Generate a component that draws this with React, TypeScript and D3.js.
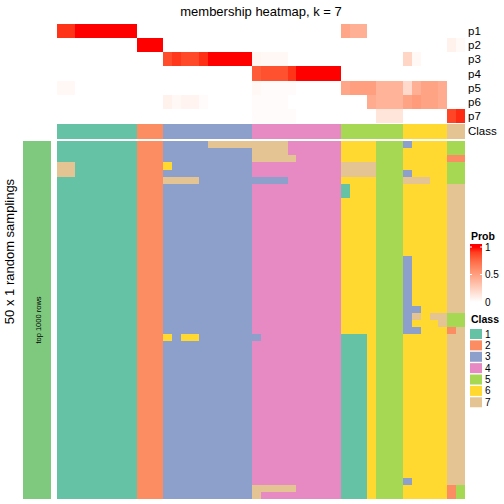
import React from "react";
import * as d3 from "d3";

const titleText = "membership heatmap, k = 7";
const sideTitle = "50 x 1 random samplings";
const barLabel = "top 1000 rows";
const probRowLabels = ["p1", "p2", "p3", "p4", "p5", "p6", "p7"];
const classRowLabel = "Class";
const classLevels = ["1", "2", "3", "4", "5", "6", "7"];
const classColors = ["#66C2A5", "#FC8D62", "#8DA0CB", "#E78AC3", "#A6D854", "#FFD92F", "#E5C494"];
const probTicks = [1, 0.5, 0];
const probTickLabels = ["1", "0.5", "0"];

// class of each of the 46 samples (column blocks: 9|3|10|10|4|3|5|2)
const sampleClass = "111111111 222 3333333333 4444444444 5555 555 66666 77";

// membership probabilities, 46 columns each
const p1 = [0.93, 0.93, 1, 1, 1, 1, 1, 1, 1, 0, 0, 0, 0, 0, 0, 0, 0, 0, 0, 0, 0, 0, 0, 0, 0, 0, 0, 0, 0, 0, 0, 0, 0.47, 0.42, 0.42, 0, 0, 0, 0, 0, 0, 0, 0, 0, 0, 0];
const p2 = [0, 0, 0, 0, 0, 0, 0, 0, 0, 1, 1, 1, 0, 0, 0, 0, 0, 0, 0, 0, 0, 0, 0, 0, 0, 0, 0, 0, 0, 0, 0, 0, 0, 0, 0, 0, 0, 0, 0, 0, 0, 0, 0, 0, 0.07, 0.03];
const p3 = [0, 0, 0, 0, 0, 0, 0, 0, 0, 0, 0, 0, 0.86, 0.92, 0.87, 0.87, 0.94, 1, 1, 1, 1, 1, 0.05, 0.04, 0.04, 0.04, 0, 0, 0, 0, 0, 0, 0, 0, 0, 0, 0, 0, 0, 0.22, 0.04, 0, 0, 0, 0, 0];
const p4 = [0, 0, 0, 0, 0, 0, 0, 0, 0, 0, 0, 0, 0, 0, 0, 0, 0, 0, 0, 0, 0, 0, 0.8, 0.84, 0.84, 0.84, 0.93, 1, 1, 1, 1, 1, 0, 0, 0, 0, 0, 0, 0, 0, 0, 0, 0, 0, 0, 0];
const p5 = [0.04, 0.04, 0, 0, 0, 0, 0, 0, 0, 0, 0, 0, 0, 0, 0, 0, 0, 0, 0, 0, 0, 0, 0.04, 0.02, 0.02, 0.02, 0.02, 0, 0, 0, 0, 0, 0.47, 0.5, 0.5, 0.5, 0.4, 0.4, 0.4, 0.2, 0.42, 0.48, 0.48, 0.44, 0, 0];
const p6 = [0, 0, 0, 0, 0, 0, 0, 0, 0, 0, 0, 0, 0.07, 0.04, 0.06, 0.06, 0.02, 0, 0, 0, 0, 0, 0.02, 0.02, 0.02, 0.02, 0, 0, 0, 0, 0, 0, 0, 0, 0, 0.44, 0.4, 0.4, 0.4, 0.48, 0.52, 0.48, 0.48, 0.44, 0, 0];
const p7 = [0, 0, 0, 0, 0, 0, 0, 0, 0, 0, 0, 0, 0, 0, 0, 0, 0, 0, 0, 0, 0, 0, 0.02, 0.02, 0.02, 0.02, 0.02, 0, 0, 0, 0, 0, 0, 0, 0, 0, 0.14, 0.14, 0.14, 0, 0, 0, 0, 0, 0.88, 0.95];

// class assigned in each of the 50 samplings (same column blocks)
const samplings = [
  "111111111 222 3333377777 7777444444 6666 555 36666 55",
  "111111111 222 3333333333 7777444444 6666 555 66666 55",
  "111111111 222 3333333333 7777744444 6666 555 66666 22",
  "771111111 222 6333333333 4444444444 7777 555 66666 55",
  "771111111 222 3333333333 4444444444 7777 555 36666 55",
  "111111111 222 7777333333 3333444444 6666 555 77766 55",
  "111111111 222 3333333333 4444444444 1666 555 66666 77",
  "111111111 222 3333333333 4444444444 1666 555 66666 77",
  "111111111 222 3333333333 4444444444 6666 555 66666 77",
  "111111111 222 3333333333 4444444444 6666 555 66666 77",
  "111111111 222 3333333333 4444444444 6666 555 66666 77",
  "111111111 222 3333333333 4444444444 6666 555 66666 77",
  "111111111 222 3333333333 4444444444 6666 555 66666 77",
  "111111111 222 3333333333 4444444444 6666 555 66666 77",
  "111111111 222 3333333333 4444444444 6666 555 66666 77",
  "111111111 222 3333333333 4444444444 6666 555 66666 77",
  "111111111 222 3333333333 4444444444 6666 555 36666 77",
  "111111111 222 3333333333 4444444444 6666 555 36666 77",
  "111111111 222 3333333333 4444444444 6666 555 36666 77",
  "111111111 222 3333333333 4444444444 6666 555 36666 77",
  "111111111 222 3333333333 4444444444 6666 555 36666 77",
  "111111111 222 3333333333 4444444444 6666 555 36666 77",
  "111111111 222 3333333333 4444444444 6666 555 36666 77",
  "111111111 222 3333333333 4444444444 6666 555 33666 77",
  "111111111 222 3333333333 4444444444 6666 555 37677 55",
  "111111111 222 3333333333 4444444444 6666 555 36667 55",
  "111111111 222 3333333333 4444444444 6666 555 33666 27",
  "111111111 222 6366333333 3444444444 1116 555 66666 77",
  "111111111 222 3333333333 4444444444 1116 555 66666 77",
  "111111111 222 3333333333 4444444444 1116 555 66666 77",
  "111111111 222 3333333333 4444444444 1116 555 66666 77",
  "111111111 222 3333333333 4444444444 1116 555 66666 77",
  "111111111 222 3333333333 4444444444 1116 555 66666 77",
  "111111111 222 3333333333 4444444444 1116 555 66666 77",
  "111111111 222 3333333333 4444444444 1116 555 66666 77",
  "111111111 222 3333333333 4444444444 1116 555 66666 77",
  "111111111 222 3333333333 4444444444 1116 555 66666 77",
  "111111111 222 3333333333 4444444444 1116 555 66666 77",
  "111111111 222 3333333333 4444444444 1116 555 66666 77",
  "111111111 222 3333333333 4444444444 1116 555 66666 77",
  "111111111 222 3333333333 4444444444 1116 555 66666 77",
  "111111111 222 3333333333 4444444444 1116 555 66666 77",
  "111111111 222 3333333333 4444444444 1116 555 66666 77",
  "111111111 222 3333333333 4444444444 1116 555 66666 77",
  "111111111 222 3333333333 4444444444 1116 555 66666 77",
  "111111111 222 3333333333 4444444444 1116 555 66666 77",
  "111111111 222 3333333333 4444444444 1116 555 66666 77",
  "111111111 222 3333333333 4444444444 1116 555 36666 77",
  "111111111 222 3333333333 7777744444 1116 555 66666 25",
  "111111111 222 3333333333 7444444444 1116 555 66666 25",
];

const FONT = "'Liberation Sans', Arial, Helvetica, sans-serif";

const parseRow = (s: string) => s.replace(/\s+/g, "").split("").map((c) => +c);

export default function App() {
  const W = 504, H = 504;
  const probs = [p1, p2, p3, p4, p5, p6, p7];
  const classes = parseRow(sampleClass);
  const nCol = classes.length;
  const grid = samplings.map(parseRow);

  const x = d3.scaleBand<number>().domain(d3.range(nCol)).range([57, 465]).padding(0);
  const yTop = d3.scaleBand<number>().domain(d3.range(7)).range([24, 123]).padding(0);
  const classY0 = 124, classY1 = 138.6;
  const yBot = d3.scaleBand<number>().domain(d3.range(grid.length)).range([141, 499]).padding(0);

  const probColor = d3.scaleLinear<string>().domain([0, 1]).range(["#FFFFFF", "#FF0000"]).interpolate(d3.interpolateLab);
  const classColor = d3.scaleOrdinal<number, string>().domain(d3.range(1, 8)).range(classColors);

  const legendY = d3.scaleLinear().domain([0, 1]).range([302, 247]);
  const gradStops = d3.range(0, 1.0001, 0.1);

  const ov = 0.35;

  return (
    <svg width={W} height={H} style={{ position: "absolute", left: 0, top: 0, display: "block" }} fontFamily={FONT}>
      <rect x={0} y={0} width={W} height={H} fill="#FFFFFF" />
      <defs>
        <linearGradient id="probGrad" gradientUnits="userSpaceOnUse" x1={0} x2={0} y1={legendY(0)} y2={legendY(1)}>
          {gradStops.map((v) => (
            <stop key={v} offset={v} stopColor={probColor(v)} />
          ))}
        </linearGradient>
      </defs>

      <text x={261} y={16} fontSize={13} textAnchor="middle" fill="#000">{titleText}</text>

      {/* probability rows */}
      <g shapeRendering="crispEdges">
        {probs.map((row, r) =>
          row.map((v, c) => (
            <rect key={`p${r}-${c}`} x={x(c)!} y={yTop(r)!} width={x.bandwidth() + ov} height={yTop.bandwidth() + ov} fill={probColor(v)} />
          ))
        )}
        {classes.map((k, c) => (
          <rect key={`c${c}`} x={x(c)!} y={classY0} width={x.bandwidth() + ov} height={classY1 - classY0} fill={classColor(k)} />
        ))}
        {grid.map((row, r) =>
          row.map((k, c) => (
            <rect key={`g${r}-${c}`} x={x(c)!} y={yBot(r)!} width={x.bandwidth() + ov} height={yBot.bandwidth() + ov} fill={classColor(k)} />
          ))
        )}
        <rect x={23} y={141} width={28} height={358} fill="#7FC97F" />
      </g>

      {probRowLabels.map((lab, r) => (
        <text key={lab} x={468} y={yTop(r)! + yTop.bandwidth() / 2} dy="0.35em" fontSize={11.5} fill="#000">{lab}</text>
      ))}
      <text x={468} y={(classY0 + classY1) / 2} dy="0.35em" fontSize={11.5} fill="#000">{classRowLabel}</text>

      <text transform={`translate(14,251.5) rotate(-90)`} textAnchor="middle" fontSize={13} fill="#000">{sideTitle}</text>
      <text transform={`translate(40.5,320) rotate(-90)`} textAnchor="middle" fontSize={7.5} fill="#000">{barLabel}</text>

      {/* Prob legend */}
      <text x={471} y={239.5} fontSize={10.5} fontWeight="bold" fill="#000">Prob</text>
      <rect x={470} y={244} width={12} height={60} fill="url(#probGrad)" />
      {probTicks.map((t, i) => (
        <g key={t}>
          {t > 0 && (
            <>
              <line x1={470} x2={472} y1={legendY(t)} y2={legendY(t)} stroke="#FFFFFF" strokeWidth={1} />
              <line x1={480} x2={482} y1={legendY(t)} y2={legendY(t)} stroke="#FFFFFF" strokeWidth={1} />
            </>
          )}
          <text x={485} y={legendY(t)} dy="0.35em" fontSize={10} fill="#000">{probTickLabels[i]}</text>
        </g>
      ))}

      {/* Class legend */}
      <text x={471} y={322.5} fontSize={10.5} fontWeight="bold" fill="#000">Class</text>
      {classLevels.map((lab, i) => (
        <g key={lab}>
          <rect x={470} y={329 + i * 11.38} width={12} height={10} fill={classColors[i]} />
          <text x={485} y={329 + i * 11.38 + 5} dy="0.35em" fontSize={10} fill="#000">{lab}</text>
        </g>
      ))}
    </svg>
  );
}
